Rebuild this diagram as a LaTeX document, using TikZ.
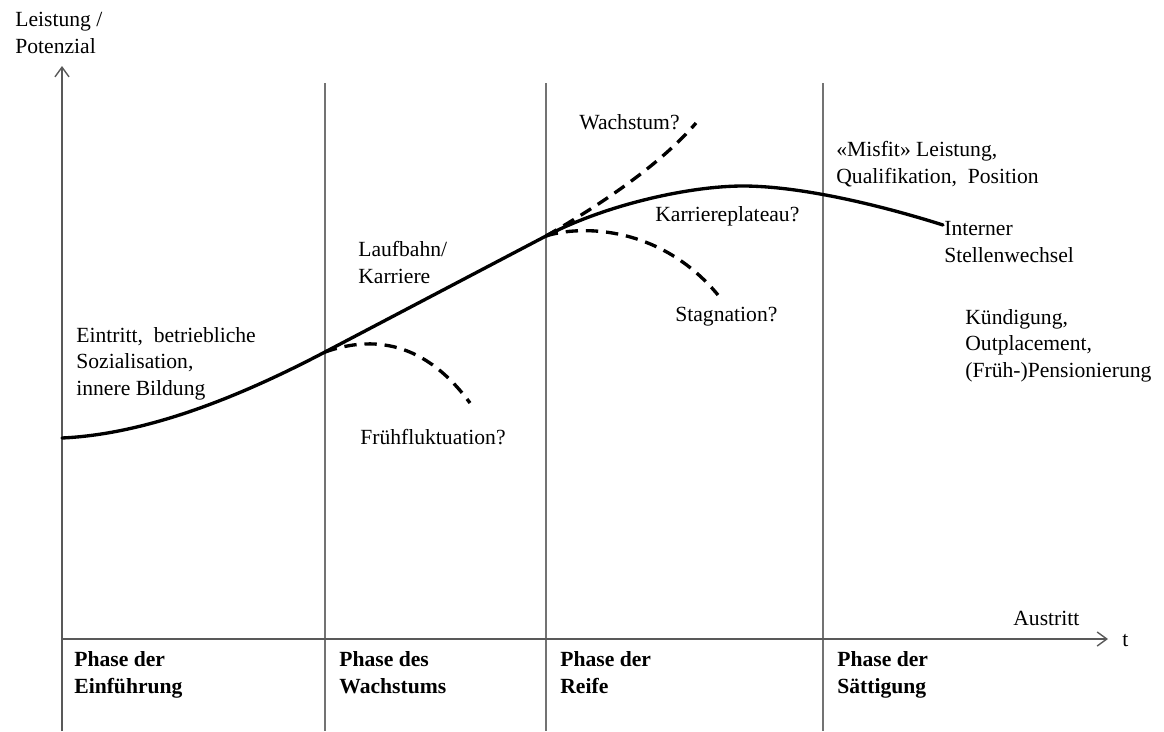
\documentclass[tikz,border=0pt]{standalone}
\usepackage{fontspec}
\setmainfont{Liberation Serif}
\usetikzlibrary{arrows.meta}

\begin{document}
\begin{tikzpicture}[x=0.02cm,y=-0.02cm,
		>={Straight Barb[length=5.5pt,width=8pt]},
		phase/.style={draw=black!55,line width=0.7pt},
		achse/.style={draw=black!65,line width=0.8pt},
		kurve/.style={line width=1.9pt,line cap=round},
		ast/.style={line width=1.9pt,dash pattern=on 7pt off 4.5pt},
		txt/.style={inner sep=0pt,anchor=base west,align=left,font=\fontsize{12.3}{15}\selectfont},
		phasetxt/.style={txt,font=\fontsize{12.3}{15}\selectfont\bfseries}]
			\useasboundingbox (0,0) rectangle (1164,731);
			\coordinate (O) at (62,639);
			\coordinate (ybot) at (62,731);
			\coordinate (ytop) at (62,66);
			\coordinate (xend) at (1108,639);
			\coordinate (L1o) at (325,83);
			\coordinate (L1u) at (325,731);
			\coordinate (L2o) at (546,83);
			\coordinate (L2u) at (546,731);
			\coordinate (L3o) at (823,83);
			\coordinate (L3u) at (823,731);
			\coordinate (start) at (62,438);
			\coordinate (J1) at (325,352);
			\coordinate (J2) at (546,236);
			\coordinate (gipfel) at (743,186);
			\coordinate (ende) at (943,225);
			\coordinate (frueh) at (470,403);
			\coordinate (wachs) at (696,123);
			\coordinate (stag) at (718,295);
			\draw[phase] (L1o) -- (L1u);
			\draw[phase] (L2o) -- (L2u);
			\draw[phase] (L3o) -- (L3u);
			\draw[achse,->] (ybot) -- (ytop);
			\draw[achse,->] (O) -- (xend);
			% Verlauf
			\draw[kurve] (start) .. controls (150,434) and (245,394) .. (J1) -- (J2)
				.. controls (606,204.5) and (690,186) .. (gipfel)
				.. controls (800,186) and (880,205) .. (ende);
			\draw[ast] (J1) .. controls (365,338) and (420,335) .. (frueh);
			\draw[ast] (J2) .. controls (600,205) and (660,165) .. (wachs);
			\draw[ast] (J2) .. controls (580,225) and (660,225) .. (stag);
			% Texte (Basislinie der letzten Zeile)
			\node[txt] (lp) at (15,53) {Leistung /\\Potenzial};
			\node[txt] (ein) at (76,395) {Eintritt,~ betriebliche\\Sozialisation,\\innere Bildung};
			\node[txt] (lk) at (358,283) {Laufbahn/\\Karriere};
			\node[txt] (ff) at (360,444) {Frühfluktuation?};
			\node[txt] (wa) at (579,129) {Wachstum?};
			\node[txt] (kp) at (655,221) {Karriereplateau?};
			\node[txt] (st) at (675,321) {Stagnation?};
			\node[txt] (mf) at (836,183) {«Misfit» Leistung,\\Qualifikation,~ Position};
			\node[txt] (isw) at (944,262) {Interner\\Stellenwechsel};
			\node[txt] (kue) at (965,377) {Kündigung,\\Outplacement,\\(Früh-)Pensionierung};
			\node[txt] (aus) at (1013,625) {Austritt};
			\node[txt] (t) at (1122,646) {t};
			\node[phasetxt] (ph1) at (74,693) {Phase der\\Einführung};
			\node[phasetxt] (ph2) at (339,693) {Phase des\\Wachstums};
			\node[phasetxt] (ph3) at (560,693) {Phase der\\Reife};
			\node[phasetxt] (ph4) at (837,693) {Phase der\\Sättigung};
		\end{tikzpicture}
\end{document}
